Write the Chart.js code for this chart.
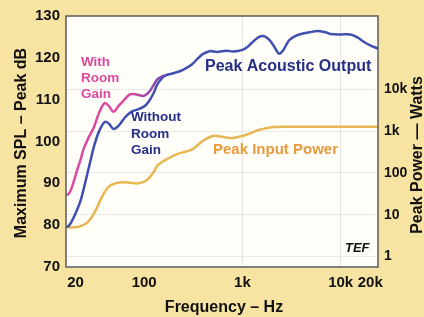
<!DOCTYPE html>
<html><head><meta charset="utf-8">
<script src="https://cdn.jsdelivr.net/npm/chart.js@4"></script>
<style>html,body{margin:0;padding:0;background:#f7e4a3;}canvas{display:block;}</style>
</head><body>
<canvas id="c" width="424" height="317"></canvas>
<script>
// ---- data ----
const xTickValues = [20, 100, 1000, 10000, 20000];
const xTickLabels = ['20', '100', '1k', '10k', '20k'];
const yTickValues = [70, 80, 90, 100, 110, 120, 130];
const powerTickValues = [1, 10, 100, 1000, 10000];
const powerTickLabels = ['1', '10', '100', '1k', '10k'];

// With room gain (dB)
const roomFreq = [16, 17, 18, 19.5, 21, 22.6, 24, 27, 30.5, 34, 37, 40, 44, 48.6, 55, 64, 72, 85, 98, 110, 125, 135, 150, 165];
const roomDb   = [87.2, 87.5, 88.5, 91, 93.5, 95.8, 98, 100.8, 103.2, 106.3, 108.3, 109.2, 108.4, 107.1, 108.5, 110.2, 111.3, 111.2, 110.9, 111.6, 113.5, 114.8, 115.5, 115.8];

// Without room gain / peak acoustic output (dB)
const outFreq = [16, 17, 18, 20, 22.6, 25, 28, 31, 35, 40, 44, 48.6, 55, 64, 75, 85, 100, 110, 125, 135, 150, 165, 190, 231, 270, 312, 350, 394, 464, 550, 688, 800, 1000, 1150, 1300, 1480, 1630, 1800, 1960, 2150, 2360, 2600, 2990, 3450, 3950, 4800, 5850, 7000, 7930, 10000, 12600, 15000, 17000, 20000, 24000];
const outDb   = [79.6, 79.8, 80.6, 82.8, 86, 90, 94.8, 99, 102.6, 104.7, 104.2, 103, 103.8, 105.8, 107.2, 107.6, 108.4, 109.4, 111.6, 113.5, 115, 115.8, 116.2, 116.8, 117.6, 118.6, 119.8, 120.9, 121.6, 121.4, 121.7, 121.5, 121.9, 122.8, 124, 125, 125.2, 124.7, 123.8, 122.3, 121, 121.8, 124.2, 125.2, 125.7, 126.1, 126.4, 126.1, 125.7, 125.6, 125.6, 124.8, 123.9, 123, 122.2];

// Peak input power (W)
const powFreq = [16, 20, 23, 26, 29, 32, 35, 40, 45, 52, 61, 72, 85, 100, 110, 125, 135, 150, 171, 216, 260, 312, 394, 497, 600, 700, 800, 1000, 1200, 1400, 1750, 2000, 3000, 5000, 10000, 20000, 24000];
const powW    = [5.0, 5.0, 5.4, 6.3, 8.5, 12.5, 20, 36, 50, 57, 60, 58, 56, 62, 72, 105, 145, 180, 214, 280, 320, 370, 575, 760, 740, 690, 680, 760, 880, 1030, 1170, 1240, 1260, 1260, 1260, 1260, 1260];

const pts = (xs, ys) => xs.map((x, i) => ({x, y: ys[i]}));

const FONT = '"Liberation Sans", Arial, Helvetica, sans-serif';
const pink = '#dc4a9f', blue = '#4050b0', navy = '#262f86', gold = '#e8b652', orangeText = '#e89a3c';

const decor = {
  id: 'decor',
  beforeDraw(chart) {
    const {ctx, chartArea: a, width, height} = chart;
    ctx.save();
    ctx.fillStyle = '#f7e4a3';
    ctx.fillRect(0, 0, width, height);
    ctx.fillStyle = '#fffef9';
    ctx.fillRect(a.left, a.top, a.right - a.left, a.bottom - a.top);
    ctx.restore();
  },
  afterDraw(chart) {
    const {ctx, chartArea: a} = chart;
    ctx.save();
    ctx.strokeStyle = '#5b5b5b';
    ctx.lineWidth = 1.5;
    ctx.strokeRect(a.left, a.top, a.right - a.left, a.bottom - a.top);

    const txt = (s, x, y, font, color, align) => {
      ctx.font = font; ctx.fillStyle = color; ctx.textAlign = align || 'left'; ctx.textBaseline = 'middle';
      ctx.fillText(s, x, y);
    };
    // annotations
    const f13 = 'bold 13.5px ' + FONT;
    txt('With', 81, 62, f13, pink); txt('Room', 81, 78, f13, pink); txt('Gain', 81, 94, f13, pink);
    txt('Without', 131, 117, f13, navy); txt('Room', 131, 134, f13, navy); txt('Gain', 131, 150, f13, navy);
    txt('Peak Acoustic Output', 205, 67, 'bold 16px ' + FONT, navy);
    txt('Peak Input Power', 213, 150, 'bold 15px ' + FONT, orangeText);
    txt('TEF', 345, 248, 'italic bold 13px ' + FONT, '#111');

    // axis titles
    txt('Frequency – Hz', 224, 308, 'bold 16px ' + FONT, '#111', 'center');
    ctx.save(); ctx.translate(22, 143); ctx.rotate(-Math.PI / 2);
    txt('Maximum SPL – Peak dB', 0, 0, 'bold 16px ' + FONT, '#111', 'center');
    ctx.restore();
    ctx.save(); ctx.translate(418, 155); ctx.rotate(-Math.PI / 2);
    txt('Peak Power — Watts', 0, 0, 'bold 16px ' + FONT, '#111', 'center');
    ctx.restore();
    ctx.restore();
  }
};

const roomColor = (c) => {
  const chart = c.chart, a = chart.chartArea;
  if (!a) return pink;
  const g = chart.ctx.createLinearGradient(a.left, 0, a.right, 0);
  g.addColorStop(0, pink); g.addColorStop(0.2, pink); g.addColorStop(0.3, '#7a4cb0'); g.addColorStop(1, blue);
  return g;
};

new Chart(document.getElementById('c'), {
  type: 'line',
  data: {
    datasets: [
      {data: pts(roomFreq, roomDb), yAxisID: 'y', borderColor: roomColor, borderWidth: 2.5, pointRadius: 0, tension: 0.35, fill: false},
      {data: pts(outFreq, outDb), yAxisID: 'y', borderColor: blue, borderWidth: 2.5, pointRadius: 0, tension: 0.35, fill: false},
      {data: pts(powFreq, powW), yAxisID: 'y2', borderColor: gold, borderWidth: 2.5, pointRadius: 0, tension: 0.35, fill: false}
    ]
  },
  options: {
    responsive: false,
    animation: false,
    layout: {padding: {top: 16, left: 0, right: 0, bottom: 0}},
    plugins: {legend: {display: false}, tooltip: {enabled: false}},
    scales: {
      x: {
        type: 'logarithmic', min: 16, max: 24000,
        afterBuildTicks: s => { s.ticks = xTickValues.map(v => ({value: v})); },
        afterFit: s => { s.height = 50; },
        ticks: {autoSkip: false, maxRotation: 0, padding: 7, color: '#111', font: {family: FONT, size: 15, weight: 'bold'},
          callback: (v, i) => xTickLabels[i]},
        grid: {drawTicks: false, color: c => (c.tick && (c.tick.value === 1000 || c.tick.value === 10000)) ? 'rgba(180,180,180,0.35)' : 'rgba(0,0,0,0)'},
        border: {display: false}
      },
      y: {
        type: 'linear', position: 'left', min: 70, max: 130,
        afterBuildTicks: s => { s.ticks = yTickValues.map(v => ({value: v})); },
        afterFit: s => { s.width = 66; },
        ticks: {padding: 6, color: '#111', font: {family: FONT, size: 15, weight: 'bold'}},
        grid: {display: false, drawTicks: false},
        border: {display: false}
      },
      y2: {
        type: 'logarithmic', position: 'right', min: Math.pow(10, -0.25), max: Math.pow(10, 5.75),
        afterBuildTicks: s => { s.ticks = powerTickValues.map(v => ({value: v})); },
        afterFit: s => { s.width = 46; },
        ticks: {padding: 6, color: '#111', font: {family: FONT, size: 14, weight: 'bold'},
          callback: (v, i) => powerTickLabels[i]},
        grid: {drawTicks: false, color: 'rgba(185,185,185,0.3)'},
        border: {display: false}
      }
    }
  },
  plugins: [decor]
});
</script>
</body></html>
